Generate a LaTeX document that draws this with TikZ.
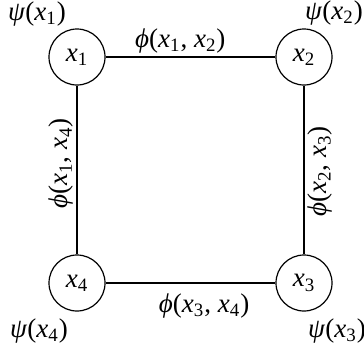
\documentclass[tikz,border=0pt]{standalone}
\usepackage{fontspec}
\setmainfont{Liberation Serif}
\usetikzlibrary{positioning}

\newcommand{\vx}[1]{\textit{x}\textsubscript{#1}}
\newcommand{\fpsi}[1]{\textit{ψ}(\vx{#1})}
\newcommand{\fphi}[2]{\textit{ϕ}(\vx{#1}, \vx{#2})}

\tikzset{
  var/.style={circle, draw, minimum size=28pt, inner sep=0pt},
  potlab/.style={inner sep=1.5pt},
}

\begin{document}
\begin{tikzpicture}[x=0.5pt, y=-0.5pt, font=\fontsize{13.5}{16}\selectfont, line width=0.6pt]
  \useasboundingbox (0,0) rectangle (364,349);
  % Variables
  \node[var] (x1) at (77,57)   {\vx{1}};
  \node[var] (x2) at (304,57)  {\vx{2}};
  \node[var] (x3) at (304,283) {\vx{3}};
  \node[var] (x4) at (77,283)  {\vx{4}};
  % Unary potentials
  \node (psi1) at (37,14)  {\fpsi{1}};
  \node (psi2) at (334,13) {\fpsi{2}};
  \node (psi3) at (337,331) {\fpsi{3}};
  \node (psi4) at (39,331) {\fpsi{4}};
  % Pairwise potentials
  \draw (x1) -- (x2) node[potlab, pos=0.44, above] {\fphi{1}{2}};
  \draw (x3) -- (x2) node[potlab, pos=0.49, sloped, below] {\fphi{2}{3}};
  \draw (x4) -- (x3) node[potlab, pos=0.58, below=3.5pt] {\fphi{3}{4}};
  \draw (x4) -- (x1) node[potlab, pos=0.54, sloped, above] {\fphi{1}{4}};
\end{tikzpicture}
\end{document}
